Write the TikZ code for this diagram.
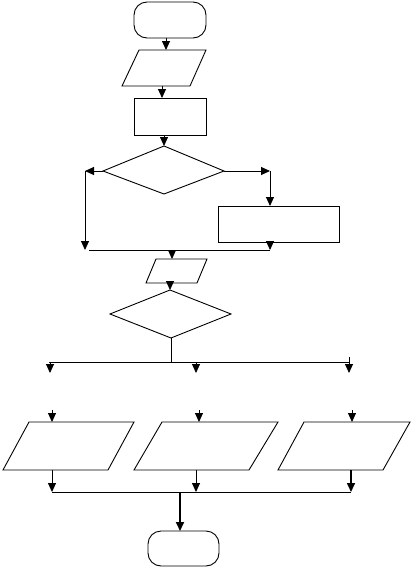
\documentclass[tikz,border=0pt]{standalone}
\usetikzlibrary{arrows.meta}
\begin{document}
\begin{tikzpicture}[x=1pt,y=-1pt,
  shapeline/.style={draw=black,line width=0.9pt},
  conn/.style={draw=black,line width=0.9pt},
  arr/.style={conn,-{Triangle[length=9pt,width=8pt]}},
  thickarr/.style={draw=black,line width=1.8pt,-{Triangle[length=9pt,width=8pt]}},
  term/.style={shapeline,rounded corners=13pt}]
\useasboundingbox (0,0) rectangle (412,568);
\fill[white] (0,0) rectangle (412,568);
% ---- shapes ----
\draw[term] (134,2) rectangle (206,38);
\coordinate (startb) at (166,38);
\draw[shapeline] (139,50) -- (206,50) -- (190,86) -- (122,86) -- cycle;
\coordinate (p1t) at (166,50);
\coordinate (p1b) at (162,86);
\draw[shapeline] (134,98) rectangle (206,135);
\coordinate (r1t) at (162,98);
\coordinate (r1b) at (164,135);
\draw[shapeline] (164,146) -- (224,171) -- (164,194) -- (103,171) -- cycle;
\coordinate (d1t) at (164,146);
\coordinate (d1l) at (103,171);
\coordinate (d1r) at (224,171);
\draw[shapeline] (218,206) rectangle (339,242);
\coordinate (r2t) at (270,206);
\coordinate (r2b) at (270,242);
\draw[shapeline] (156,259) -- (207,259) -- (197,283) -- (146,283) -- cycle;
\coordinate (p2t) at (172,259);
\coordinate (p2b) at (170,283);
\draw[shapeline] (170,290) -- (231,314) -- (171,338) -- (110,314) -- cycle;
\coordinate (d2t) at (170,290);
\coordinate (d2b) at (171,338);
\draw[shapeline] (29,422) -- (134,422) -- (108,470) -- (3,470) -- cycle;
\draw[shapeline] (162,422) -- (278,422) -- (249,470) -- (134,470) -- cycle;
\draw[shapeline] (304,422) -- (410,422) -- (383,470) -- (278,470) -- cycle;
\coordinate (pat) at (52,422);  \coordinate (pab) at (52,470);
\coordinate (pbt) at (199,422); \coordinate (pbb) at (196,470);
\coordinate (pct) at (352,422); \coordinate (pcb) at (351,470);
\draw[term] (148,531) rectangle (219,566);
\coordinate (endt) at (180,531);
% ---- junction points ----
\coordinate (lc) at (85,171);
\coordinate (lb) at (85,250);
\coordinate (rc) at (270,171);
\coordinate (m1l) at (89,250);
\coordinate (m1r) at (270,250);
\coordinate (m1c) at (172,250);
\coordinate (s1) at (171,362);
\coordinate (s1l) at (49,362);
\coordinate (s1r) at (349,362);
\coordinate (ta) at (50,362);  \coordinate (ha) at (50,373);
\coordinate (tb) at (196,362); \coordinate (hb) at (196,373);
\coordinate (tc) at (349,357); \coordinate (hc) at (349,373);
\coordinate (ua) at (52,410);
\coordinate (ub) at (199,410);
\coordinate (uc) at (352,410);
\coordinate (ja) at (52,492);
\coordinate (jb) at (196,492);
\coordinate (jc) at (351,492);
\coordinate (jm) at (180,492);
% ---- connectors ----
\draw[arr] (startb) -- (p1t);
\draw[arr] (p1b) -- (r1t);
\draw[arr] (r1b) -- (d1t);
\draw[arr] (d1l) -- (lc);
\draw[arr] (lc) -- (lb);
\draw[arr] (d1r) -- (rc);
\draw[arr] (rc) -- (r2t);
\draw[arr] (r2b) -- (m1r);
\draw[conn] (m1l) -- (m1r);
\draw[arr] (m1c) -- (p2t);
\draw[arr] (p2b) -- (d2t);
\draw[conn] (d2b) -- (s1);
\draw[conn] (s1l) -- (s1r);
\draw[arr] (ta) -- (ha);
\draw[arr] (tb) -- (hb);
\draw[arr] (tc) -- (hc);
\draw[arr] (ua) -- (pat);
\draw[arr] (ub) -- (pbt);
\draw[arr] (uc) -- (pct);
\draw[arr] (pab) -- (ja);
\draw[arr] (pbb) -- (jb);
\draw[arr,line width=1.5pt] (pcb) -- (jc);
\draw[conn] (ja) -- (jc);
\draw[thickarr] (jm) -- (endt);
\end{tikzpicture}
\end{document}
